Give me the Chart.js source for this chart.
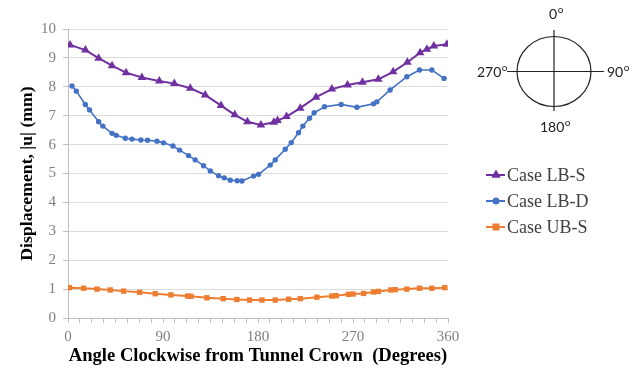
<!DOCTYPE html>
<html>
<head>
<meta charset="utf-8">
<script src="https://cdn.jsdelivr.net/npm/chart.js@4/dist/chart.umd.min.js"></script>
<style>
  html, body { margin: 0; padding: 0; background: #fff; }
  #wrap { width: 634px; height: 370px; position: relative; }
</style>
</head>
<body>
<div id="wrap"><canvas id="grafico"></canvas></div>
<script>
// angles (deg) and displacement |u| (mm)
const lbsAngle = [2, 16.5, 29, 41.7, 55, 70, 86.5, 100.7, 115.8, 130, 145, 158, 170, 182.7, 195, 198.5, 207, 220, 235, 250, 264.8, 279, 294, 308, 321.5, 333.6, 340, 346.6, 359];
const lbsDisp = [9.45, 9.27, 8.99, 8.73, 8.49, 8.32, 8.20, 8.11, 7.95, 7.72, 7.35, 7.03, 6.79, 6.68, 6.77, 6.83, 6.97, 7.26, 7.64, 7.92, 8.06, 8.16, 8.26, 8.52, 8.85, 9.18, 9.30, 9.41, 9.47];

const lbdAngle = [3.8, 7.9, 16.4, 20.5, 29, 33, 41.7, 45.7, 54.3, 60.6, 69, 75.4, 84.3, 90.5, 99.4, 105.7, 114.2, 120.5, 128.4, 134.8, 142.6, 148, 153.7, 160.3, 164.8, 175.8, 180.5, 191.6, 196.3, 205.8, 211.5, 218.4, 222.5, 228.8, 233.2, 243, 258.8, 273.7, 289.4, 292.6, 305.2, 321, 333, 344.7, 356.3];
const lbdDisp = [8.03, 7.85, 7.39, 7.20, 6.79, 6.64, 6.39, 6.32, 6.22, 6.19, 6.16, 6.15, 6.12, 6.06, 5.95, 5.81, 5.62, 5.47, 5.27, 5.09, 4.92, 4.85, 4.77, 4.75, 4.74, 4.91, 4.97, 5.29, 5.47, 5.84, 6.07, 6.41, 6.64, 6.91, 7.10, 7.31, 7.39, 7.29, 7.41, 7.48, 7.89, 8.35, 8.58, 8.58, 8.29];

const ubsAngle = [1.5, 14.8, 27.5, 40, 52.7, 67.8, 82.7, 97.5, 113.3, 116.5, 131.6, 147, 160, 172, 183.7, 196.3, 209, 220, 235.8, 250, 254, 265.7, 270, 280, 289.4, 294, 305.8, 310, 321, 333, 344.7, 357];
const ubsDisp = [1.05, 1.03, 1.00, 0.97, 0.93, 0.89, 0.84, 0.80, 0.76, 0.75, 0.70, 0.67, 0.64, 0.62, 0.62, 0.62, 0.65, 0.67, 0.72, 0.76, 0.77, 0.82, 0.83, 0.85, 0.90, 0.92, 0.97, 0.98, 1.00, 1.03, 1.03, 1.05];

const nombres = ["Case LB-S", "Case LB-D", "Case UB-S"];
const xTitulo = "Angle Clockwise from Tunnel Crown  (Degrees)";
const yTitulo = "Displacement, |u| (mm)";
const rosa = ["0", "90", "180", "270"];

function puntos(xs, ys) {
  return xs.map((x, i) => ({ x: x, y: ys[i] }));
}

const serif = "'Liberation Serif', 'Times New Roman', serif";
const gris = "#7f7f7f";

// legend drawn by hand, right side
const leyendaPlugin = {
  id: "leyenda",
  afterDraw(chart) {
    const ctx = chart.ctx;
    const filas = [175, 201, 227];
    chart.data.datasets.forEach((ds, i) => {
      const y = filas[i];
      ctx.save();
      ctx.strokeStyle = ds.borderColor;
      ctx.lineWidth = 2;
      ctx.beginPath();
      ctx.moveTo(486, y);
      ctx.lineTo(505, y);
      ctx.stroke();
      ctx.fillStyle = ds.borderColor;
      Chart.helpers.drawPoint(ctx, {
        pointStyle: ds.pointStyle,
        radius: ds.pointStyle === "circle" ? 2.5 : 3.5,
        rotation: 0,
        borderWidth: 1
      }, 496, y);
      ctx.fillStyle = "#404040";
      ctx.font = "18px " + serif;
      ctx.textBaseline = "middle";
      ctx.fillText(ds.label, 507, y + 1);
      ctx.restore();
    });
  }
};

// little tunnel sketch with the angle labels
const rosaPlugin = {
  id: "rosa",
  afterDraw(chart) {
    const ctx = chart.ctx;
    const cx = 554, cy = 71.5;
    ctx.save();
    ctx.strokeStyle = "#222";
    ctx.lineWidth = 1.2;
    ctx.beginPath();
    ctx.ellipse(cx, cy, 37, 35, 0, 0, Math.PI * 2);
    ctx.stroke();
    ctx.beginPath();
    ctx.moveTo(cx, 30);
    ctx.lineTo(cx, 111);
    ctx.moveTo(507, cy);
    ctx.lineTo(604, cy);
    ctx.stroke();

    const grado = (txt, x, y, align) => {
      ctx.font = "14px Lato, 'Liberation Sans', sans-serif";
      const w1 = ctx.measureText(txt).width;
      ctx.font = "10px Lato, 'Liberation Sans', sans-serif";
      const w2 = ctx.measureText("o").width;
      let x0 = x;
      if (align === "center") x0 = x - (w1 + w2) / 2;
      if (align === "right") x0 = x - (w1 + w2);
      ctx.fillStyle = "#222";
      ctx.textBaseline = "middle";
      ctx.textAlign = "left";
      ctx.font = "14px Lato, 'Liberation Sans', sans-serif";
      ctx.fillText(txt, x0, y);
      ctx.font = "10px Lato, 'Liberation Sans', sans-serif";
      ctx.fillText("o", x0 + w1 + 0.5, y - 4);
    };
    grado(rosa[0], 556, 14, "center");
    grado(rosa[1], 607, 72, "left");
    grado(rosa[2], 555, 127, "center");
    grado(rosa[3], 507, 72, "right");
    ctx.restore();
  }
};

new Chart(document.getElementById("grafico"), {
  type: "line",
  data: {
    datasets: [
      {
        label: nombres[0],
        data: puntos(lbsAngle, lbsDisp),
        borderColor: "#7030a0",
        backgroundColor: "#7030a0",
        borderWidth: 2,
        pointStyle: "triangle",
        pointRadius: 5,
        pointBorderWidth: 0
      },
      {
        label: nombres[1],
        data: puntos(lbdAngle, lbdDisp),
        borderColor: "#4472c4",
        backgroundColor: "#4472c4",
        borderWidth: 1.6,
        pointStyle: "circle",
        pointRadius: 2.7,
        pointBorderWidth: 0
      },
      {
        label: nombres[2],
        data: puntos(ubsAngle, ubsDisp),
        borderColor: "#ed7d31",
        backgroundColor: "#ed7d31",
        borderWidth: 2,
        pointStyle: "rect",
        pointRadius: 3.8,
        pointBorderWidth: 0
      }
    ]
  },
  options: {
    responsive: true,
    maintainAspectRatio: false,
    animation: false,
    layout: { padding: { top: 29, right: 186, left: 0, bottom: 0 } },
    plugins: { legend: { display: false }, tooltip: { enabled: false } },
    scales: {
      x: {
        type: "linear",
        min: 0,
        max: 360,
        afterFit: (s) => { s.height = 52; },
        afterBuildTicks: (s) => {
          s.ticks = [];
          for (let i = 0; i <= 32; i++) s.ticks.push({ value: i * 11.25 });
        },
        ticks: {
          autoSkip: false,
          maxRotation: 0,
          padding: 5,
          color: gris,
          font: { family: serif, size: 15 },
          callback: (v) => (Math.abs(v % 90) < 1e-6 ? String(v) : "")
        },
        grid: {
          drawOnChartArea: false,
          tickLength: 5,
          tickColor: "#bfbfbf"
        },
        border: { display: true, color: "#bfbfbf" },
        title: {
          display: true,
          text: xTitulo,
          color: "#000",
          font: { family: serif, size: 18.6, weight: "bold" },
          padding: { top: 0, bottom: 3 }
        }
      },
      y: {
        min: 0,
        max: 10,
        afterFit: (s) => { s.width = 68; },
        ticks: {
          stepSize: 1,
          padding: 7,
          color: gris,
          font: { family: serif, size: 15 }
        },
        grid: {
          color: "#dcdcdc",
          tickLength: 5,
          tickColor: "#bfbfbf"
        },
        border: { display: true, color: "#bfbfbf" },
        title: {
          display: true,
          text: yTitulo,
          color: "#000",
          font: { family: serif, size: 17.7, weight: "bold" },
          padding: { top: 17, bottom: 0 }
        }
      }
    }
  },
  plugins: [leyendaPlugin, rosaPlugin]
});
</script>
</body>
</html>
